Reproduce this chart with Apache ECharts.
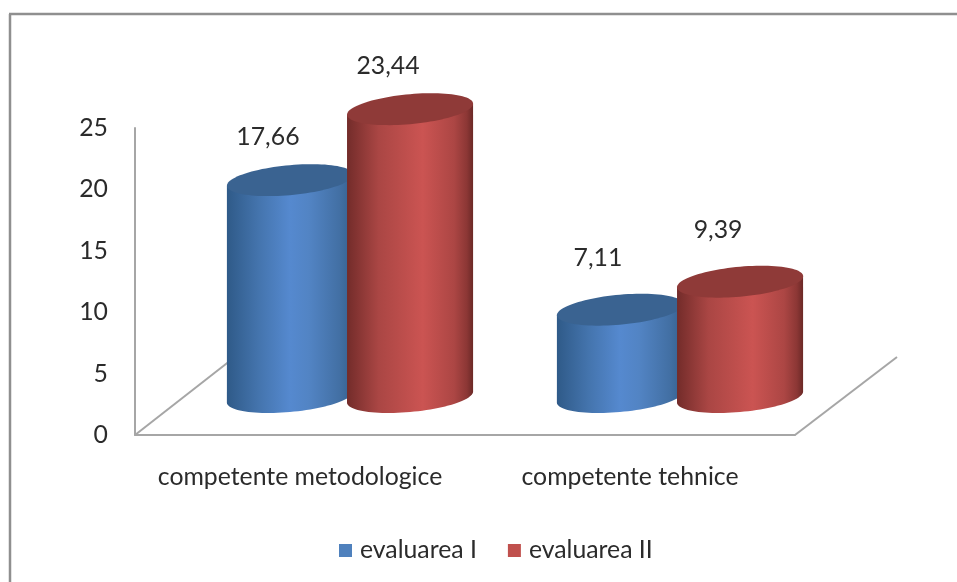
<!DOCTYPE html>
<html><head><meta charset="utf-8">
<style>html,body{margin:0;padding:0;background:#fff}#c{width:957px;height:582px}</style>
<script src="https://cdn.jsdelivr.net/npm/echarts@6/dist/echarts.min.js"></script>
</head><body><div id="c"></div>
<script>
const categories = ['competente metodologice', 'competente tehnice'];
const seriesNames = ['evaluarea I', 'evaluarea II'];
const evaluareaI = [17.66, 7.11];
const evaluareaII = [23.44, 9.39];
const yTicks = [0, 25, 5];

const FONT = 'Lato';
const FS = 24.8;
const TEXT = '#2b2b2b';
const AXIS = '#a6a6a6';
const labelLift = [43, 52];

const chart = echarts.init(document.getElementById('c'), null, {renderer: 'canvas'});

function cylinder(sign, sideStops, topColor) {
  return function (params, api) {
    const cat = api.value(0), val = api.value(1);
    const band = api.size([1, 0])[0];
    const a = band * 0.191, b = 15, s = 5.5;
    const depthX = band * 0.1515, depthY = -38;
    const off = sign * band * 0.182;
    const top = api.coord([cat, val]);
    const base = api.coord([cat, 0]);
    const cx = top[0] + depthX + off;
    const yT = top[1] + depthY, yB = base[1] + depthY;
    const pt = (y, t) => [cx + a * Math.cos(t), y + b * Math.sin(t) - s * Math.cos(t)];
    const body = [pt(yT, Math.PI)];
    for (let i = 0; i <= 48; i++) body.push(pt(yB, Math.PI - Math.PI * i / 48));
    body.push(pt(yT, 0));
    const lid = [];
    for (let i = 0; i < 96; i++) lid.push(pt(yT, 2 * Math.PI * i / 96));
    return {
      type: 'group',
      children: [
        {type: 'polygon', shape: {points: body}, style: {
          fill: new echarts.graphic.LinearGradient(0, 0, 1, 0, sideStops)}},
        {type: 'polygon', shape: {points: lid}, style: {fill: topColor}},
        {type: 'text', style: {
          text: val.toFixed(2).replace('.', ','),
          x: cx - 22, y: yT - labelLift[cat],
          textAlign: 'center', textVerticalAlign: 'middle',
          fill: TEXT, font: FS + 'px ' + FONT}}
      ]
    };
  };
}

const blueStops = [
  {offset: 0, color: '#2f5a88'}, {offset: 0.25, color: '#4474ad'},
  {offset: 0.5, color: '#5589cf'}, {offset: 0.65, color: '#5284c4'},
  {offset: 0.9, color: '#426fa3'}, {offset: 1, color: '#35608f'}];
const redStops = [
  {offset: 0, color: '#732c2a'}, {offset: 0.25, color: '#aa4644'},
  {offset: 0.6, color: '#cb5452'}, {offset: 0.85, color: '#ac4644'},
  {offset: 0.95, color: '#8c3735'}, {offset: 1, color: '#6b2927'}];

const pairs = v => v.map((y, i) => [i, y]);

chart.setOption({
  animation: false,
  backgroundColor: '#fff',
  grid: {left: 135, top: 128, width: 660, height: 307},
  xAxis: {type: 'category', data: categories,
    axisLine: {lineStyle: {color: AXIS, width: 2}}, axisTick: {show: false},
    axisLabel: {fontFamily: FONT, fontSize: FS, color: TEXT, margin: 30, interval: 0}},
  yAxis: {type: 'value', min: yTicks[0], max: yTicks[1], interval: yTicks[2],
    splitLine: {show: false},
    axisLine: {show: true, lineStyle: {color: AXIS, width: 2}}, axisTick: {show: false},
    axisLabel: {fontFamily: FONT, fontSize: FS, color: TEXT, margin: 27}},
  legend: {left: 334, top: 533, itemWidth: 13, itemHeight: 13, itemGap: 31,
    data: seriesNames.map(n => ({name: n, icon: 'rect'})),
    textStyle: {fontFamily: FONT, fontSize: FS, color: TEXT, padding: [0, 0, 0, 3]}},
  graphic: [
    {type: 'line', shape: {x1: 10, y1: 14, x2: 10, y2: 582}, style: {stroke: '#8f8f8f', lineWidth: 2.5}},
    {type: 'line', shape: {x1: 9, y1: 14, x2: 957, y2: 14}, style: {stroke: '#8f8f8f', lineWidth: 2.5}},
    {type: 'line', z: -1, shape: {x1: 135, y1: 435, x2: 240, y2: 353}, style: {stroke: AXIS, lineWidth: 2}},
    {type: 'line', z: -1, shape: {x1: 795, y1: 435, x2: 897, y2: 357}, style: {stroke: AXIS, lineWidth: 2}}
  ],
  series: [
    {name: seriesNames[0], type: 'custom', data: pairs(evaluareaI), encode: {x: 0, y: 1},
     itemStyle: {color: '#4f81bd'}, renderItem: cylinder(-1, blueStops, '#3a6391')},
    {name: seriesNames[1], type: 'custom', data: pairs(evaluareaII), encode: {x: 0, y: 1},
     itemStyle: {color: '#c0504d'}, renderItem: cylinder(1, redStops, '#8f3a38')}
  ]
});
</script></body></html>
